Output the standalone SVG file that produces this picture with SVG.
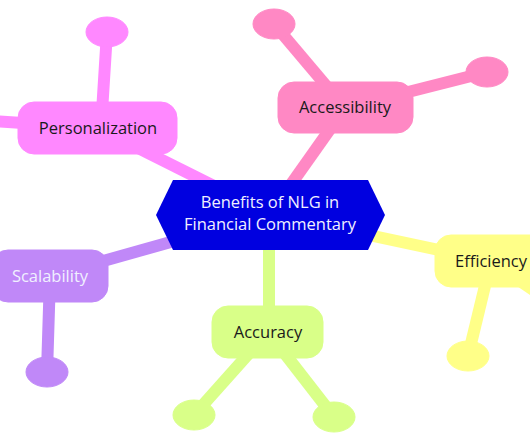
<svg xmlns="http://www.w3.org/2000/svg" width="530" height="442" viewBox="0 0 530 442">
<style>
  .lbl { font-family: "Open Sans", "Noto Sans", sans-serif; font-size: 16.5px; text-anchor: middle; }
  .dark { fill: #1a1a1a; }
  .light { fill: #f0f0ff; }
  .conn line { stroke-width: 12; stroke-linecap: butt; }
  .pers { fill: #ff88ff; stroke: #ff88ff; }
  .acc { fill: #ff88c4; stroke: #ff88c4; }
  .scal { fill: #c088f8; stroke: #c088f8; }
  .accu { fill: #d9ff88; stroke: #d9ff88; }
  .eff { fill: #ffff88; stroke: #ffff88; }
</style>
<rect width="530" height="442" fill="#ffffff"/>
<g id="connectors" class="conn">
  <line class="pers" x1="270" y1="214" x2="98" y2="128"/>
  <line class="pers" x1="101" y1="128" x2="107" y2="32"/>
  <line class="pers" x1="98" y1="128" x2="-40" y2="119"/>
  <line class="acc" x1="270" y1="214" x2="345" y2="108"/>
  <line class="acc" x1="345" y1="108" x2="274" y2="24"/>
  <line class="acc" x1="345" y1="108" x2="487" y2="72"/>
  <line class="scal" x1="270" y1="214" x2="50" y2="276"/>
  <line class="scal" x1="50" y1="276" x2="47" y2="372"/>
  <line class="accu" x1="269" y1="214" x2="269" y2="332"/>
  <line class="accu" x1="268" y1="332" x2="194" y2="415"/>
  <line class="accu" x1="268" y1="332" x2="334" y2="417"/>
  <line class="eff" x1="270" y1="214" x2="491" y2="261"/>
  <line class="eff" x1="491" y1="261" x2="468" y2="356"/>
  <line class="eff" x1="491" y1="261" x2="570" y2="315"/>
</g>
<g id="center">
  <polygon points="156,215 173,180 368,180 385,215 368,250 173,250" fill="#0000e0"/>
  <text class="lbl light" x="270" y="208">Benefits of NLG in</text>
  <text class="lbl light" x="270" y="230">Financial Commentary</text>
</g>
<g id="personalization">
  <rect class="pers" x="18" y="102" width="159" height="52" rx="16" stroke="none"/>
  <text class="lbl dark" x="98" y="134">Personalization</text>
</g>
<g id="personalization-leaf">
  <ellipse class="pers" cx="107" cy="32" rx="21" ry="15" stroke="none"/>
</g>
<g id="accessibility">
  <rect class="acc" x="278" y="82" width="135" height="51" rx="16" stroke="none"/>
  <text class="lbl dark" x="345" y="113">Accessibility</text>
</g>
<g id="accessibility-leaf-1">
  <ellipse class="acc" cx="274" cy="24" rx="21" ry="15" stroke="none"/>
</g>
<g id="accessibility-leaf-2">
  <ellipse class="acc" cx="487" cy="72" rx="21" ry="15" stroke="none"/>
</g>
<g id="scalability">
  <rect class="scal" x="-8" y="250" width="116" height="52" rx="16" stroke="none"/>
  <text class="lbl light" x="50" y="282">Scalability</text>
</g>
<g id="scalability-leaf">
  <ellipse class="scal" cx="47" cy="372" rx="21" ry="15" stroke="none"/>
</g>
<g id="accuracy">
  <rect class="accu" x="212" y="306" width="111" height="52" rx="16" stroke="none"/>
  <text class="lbl dark" x="268" y="338">Accuracy</text>
</g>
<g id="accuracy-leaf-1">
  <ellipse class="accu" cx="194" cy="415" rx="21" ry="15" stroke="none"/>
</g>
<g id="accuracy-leaf-2">
  <ellipse class="accu" cx="334" cy="417" rx="21" ry="15" stroke="none"/>
</g>
<g id="efficiency">
  <rect class="eff" x="435" y="235" width="112" height="52" rx="16" stroke="none"/>
  <text class="lbl dark" x="491" y="267">Efficiency</text>
</g>
<g id="efficiency-leaf">
  <ellipse class="eff" cx="468" cy="356" rx="21" ry="15" stroke="none"/>
</g>
</svg>
